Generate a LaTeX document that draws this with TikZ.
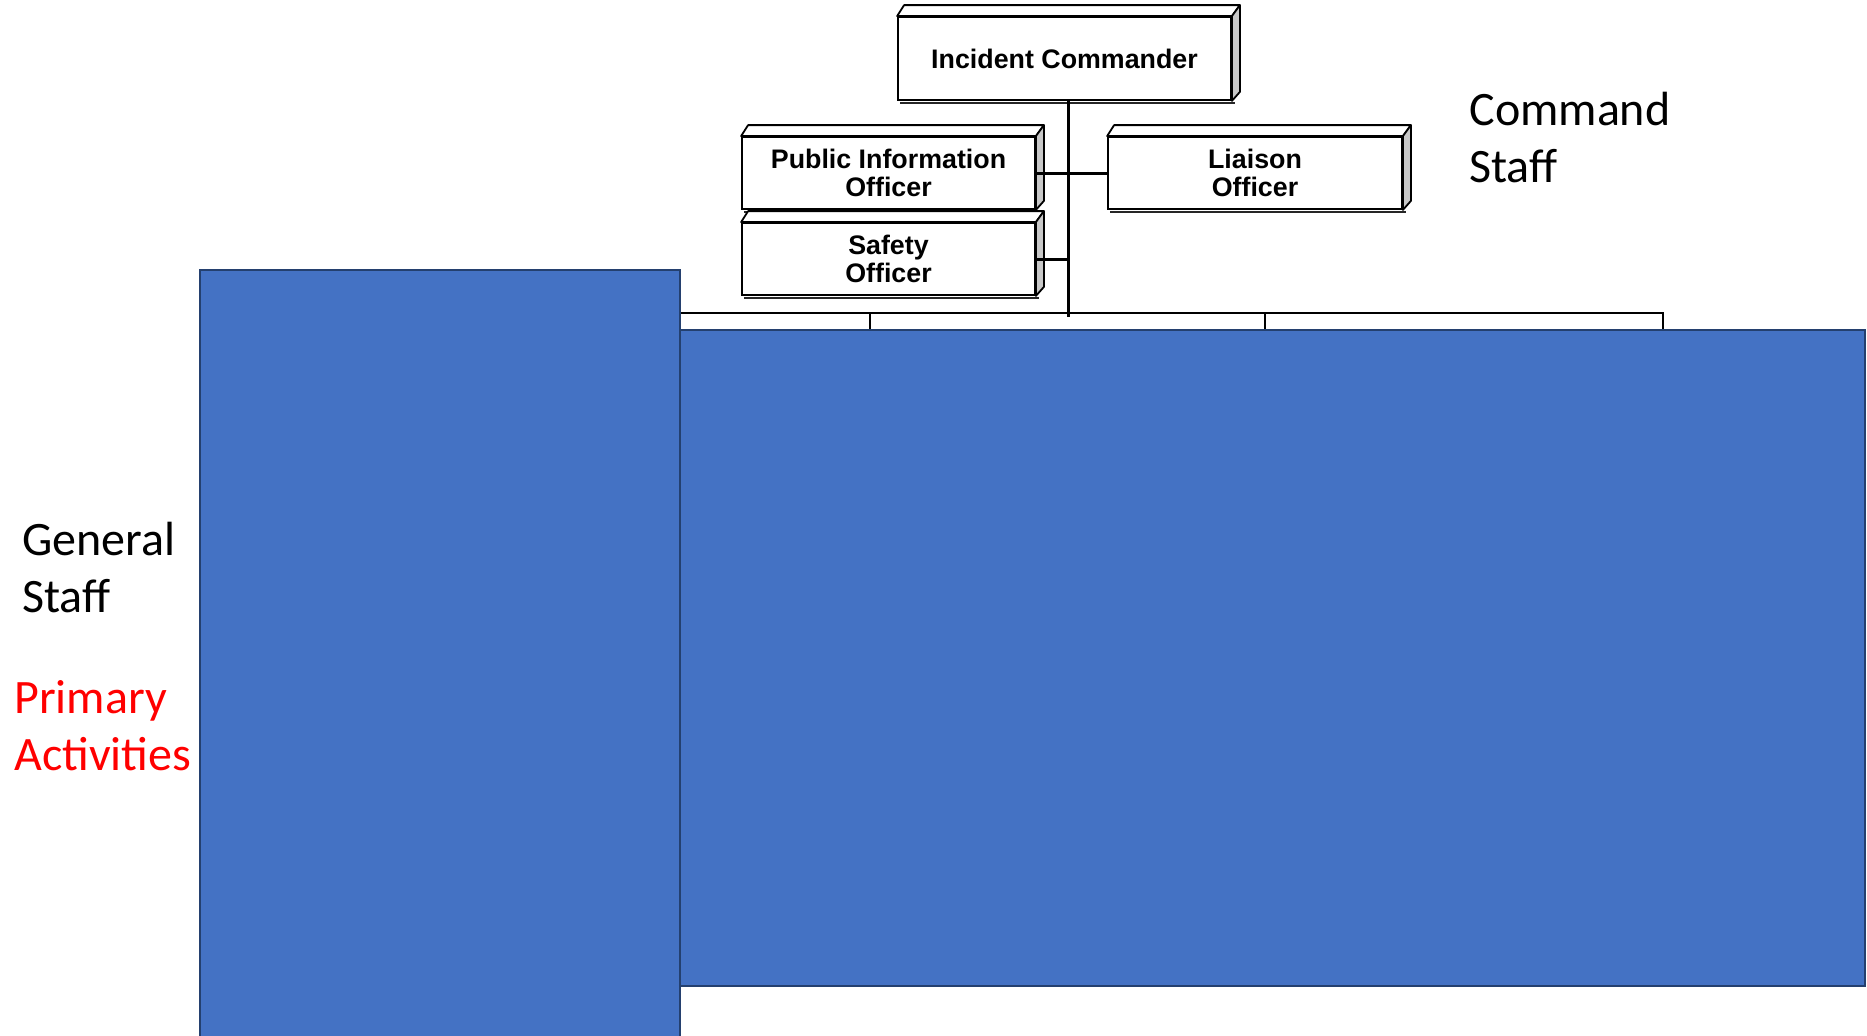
\documentclass[tikz,border=0pt]{standalone}
\usepackage{fontspec}
\setmainfont{Carlito}
\newfontfamily\orgfont{Liberation Sans}
\usetikzlibrary{calc}
\definecolor{pptblue}{HTML}{4472C4}
\definecolor{pptedge}{HTML}{24406F}
\definecolor{bevelgray}{HTML}{C8C8C8}
\definecolor{actred}{HTML}{FF0000}
\begin{document}
\begin{tikzpicture}[x=0.5pt,y=-0.5pt,
  orgbox/.style={draw=black, line width=0.9pt, fill=white, inner sep=0pt, align=center,
    font=\orgfont\bfseries\fontsize{13.4}{14}\selectfont},
  bevelface/.style={draw=black, line width=0.9pt, line join=round},
  link/.style={draw=black, line width=1.5pt},
  bar/.style={draw=black, line width=1.1pt},
  panel/.style={draw=pptedge, fill=pptblue, line width=1.25pt},
  sidelabel/.style={anchor=base west, inner sep=0pt, align=left,
    font=\fontsize{24}{28.5}\selectfont}]
\useasboundingbox (0,0) rectangle (1867,1035);
\clip (0,0) rectangle (1867,1035);

% org chart boxes
\node[orgbox, minimum width=166.5pt, minimum height=41.5pt] (ic) at (1064.5,58.5) {Incident Commander};
\node[orgbox, minimum width=146.5pt, minimum height=36pt] (pio) at (888.5,173) {Public Information\\Officer};
\node[orgbox, minimum width=147pt, minimum height=36pt] (lo) at (1255,173) {Liaison\\Officer};
\node[orgbox, minimum width=146.5pt, minimum height=36pt] (so) at (888.5,259) {Safety\\Officer};

\foreach \n in {ic,pio,lo,so}{
  \filldraw[bevelface, fill=white] (\n.north west) -- ++(7,-11) -- ($(\n.north east)+(8,-11)$) -- (\n.north east) -- cycle;
  \filldraw[bevelface, fill=bevelgray] (\n.north east) -- ++(8,-11) -- ($(\n.south east)+(8,-9)$) -- (\n.south east) -- cycle;
  \draw[black!85, line width=1.4pt] ($(\n.south west)+(3,2)$) -- ($(\n.south east)+(3,2)$);
}

% connectors
\coordinate (trunk) at (1068,317);
\draw[link] (ic.south -| trunk) -- (trunk);
\draw[link] (pio.east) -- (lo.west);
\draw[link] (so.east) -- (so.east -| trunk);

\coordinate (barL) at (640,313);
\coordinate (barR) at (1663,313);
\coordinate (d1) at (870,313);
\coordinate (d2) at (1265,313);
\draw[bar] (barL) -- (barR) -- ++(0,20);
\draw[bar] (d1) -- ++(0,20);
\draw[bar] (d2) -- ++(0,20);

% blue panels
\draw[panel] (680,330) rectangle (1865,986);
\draw[panel] (200,270) rectangle (680,1045);

% labels
\node[sidelabel] (cmd) at (1469,182) {Command\\Staff};
\node[sidelabel] (gen) at (22,612) {General\\Staff};
\node[sidelabel, text=actred] (act) at (14,770) {Primary\\Activities};
\end{tikzpicture}
\end{document}
